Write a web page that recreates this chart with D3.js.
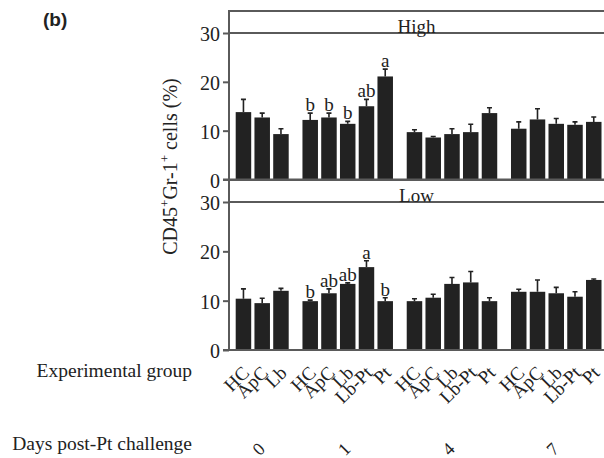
<!DOCTYPE html>
<html>
<head>
<meta charset="utf-8">
<script src="https://cdn.jsdelivr.net/npm/d3@7"></script>
<style>
  body { margin: 0; background: #fff; }
  svg text { font-family: "Liberation Serif", "Times New Roman", serif; fill: #222; }
  .panel-line { stroke: #5a5a5a; stroke-width: 2; }
  .bar { fill: #222; }
  .err { stroke: #222; stroke-width: 1.6; }
</style>
</head>
<body>
<div id="chart"></div>
<script>
// Days post-challenge and the experimental groups measured on each day
const days = ['0', '1', '4', '7'];
const treatments = [
  ['HC', 'ApC', 'Lb'],
  ['HC', 'ApC', 'Lb', 'Lb-Pt', 'Pt'],
  ['HC', 'ApC', 'Lb', 'Lb-Pt', 'Pt'],
  ['HC', 'ApC', 'Lb', 'Lb-Pt', 'Pt']
];

// High dose panel (mean and SE, %)
const highMean = [13.8, 12.7, 9.3,  12.2, 12.7, 11.4, 15.0, 21.1,  9.7, 8.6, 9.3, 9.7, 13.6,  10.4, 12.3, 11.4, 11.2, 11.8];
const highErr  = [2.6, 0.9, 1.1,  1.4, 0.9, 0.5, 1.4, 1.5,  0.5, 0.2, 1.1, 1.6, 1.1,  1.4, 2.2, 1.1, 0.6, 1.0];
const highSig  = ['', '', '',  'b', 'b', 'b', 'ab', 'a',  '', '', '', '', '',  '', '', '', '', ''];

// Low dose panel
const lowMean = [10.4, 9.5, 12.0,  9.9, 11.5, 13.4, 16.8, 9.9,  9.9, 10.6, 13.4, 13.7, 9.9,  11.8, 11.8, 11.5, 10.8, 14.2];
const lowErr  = [2.0, 1.0, 0.5,  0.2, 0.9, 0.2, 1.3, 0.7,  0.5, 0.7, 1.3, 2.2, 0.7,  0.5, 2.4, 1.2, 1.0, 0.2];
const lowSig  = ['', '', '',  'b', 'ab', 'ab', 'a', 'b',  '', '', '', '', '',  '', '', '', '', ''];

const yTicks = [0, 10, 20, 30];

const width = 604, height = 458;
const axisX = 229, rightX = 604;
const barW = 15.5;
const groupGap = 0.56; // extra slots between day groups

const svg = d3.select('#chart').append('svg')
    .attr('width', width)
    .attr('height', height);

// flatten into one bar per slot
const bars = [];
treatments.forEach((grp, g) => {
  grp.forEach(name => {
    const i = bars.length;
    bars.push({ i, g, name, slot: i + g * groupGap });
  });
});

const xScale = d3.scaleLinear()
    .domain([0, bars[bars.length - 1].slot])
    .range([235.7, 586]);
const xMid = d => xScale(d.slot) + barW / 2;

function drawPanel(label, top, yRange, mean, err, sig) {
  const yScale = d3.scaleLinear().domain([0, 30]).range(yRange);
  const g = svg.append('g');

  // strip with panel label
  g.append('line').attr('class', 'panel-line')
      .attr('x1', axisX).attr('x2', rightX).attr('y1', top).attr('y2', top);
  g.append('line').attr('class', 'panel-line')
      .attr('x1', axisX).attr('x2', rightX).attr('y1', yScale(30)).attr('y2', yScale(30));
  g.append('text')
      .attr('x', (axisX + rightX) / 2)
      .attr('y', yScale(30))
      .attr('text-anchor', 'middle')
      .style('font-size', '19px')
      .text(label);

  // bars
  g.selectAll('.bar')
      .data(bars)
    .join('rect')
      .attr('class', 'bar')
      .attr('x', d => xScale(d.slot))
      .attr('width', barW)
      .attr('y', d => yScale(mean[d.i]))
      .attr('height', d => yScale(0) - yScale(mean[d.i]));

  // upper error bars
  g.selectAll('.err')
      .data(bars)
    .join('path')
      .attr('class', 'err')
      .attr('fill', 'none')
      .attr('d', d => {
        const cx = xMid(d), y0 = yScale(mean[d.i]), y1 = yScale(mean[d.i] + err[d.i]);
        return `M${cx},${y0}V${y1}M${cx - 2.5},${y1}H${cx + 2.5}`;
      });

  // significance letters
  g.selectAll('.sig')
      .data(bars.filter(d => sig[d.i]))
    .join('text')
      .attr('class', 'sig')
      .attr('x', d => xMid(d))
      .attr('y', d => yScale(mean[d.i] + err[d.i]) - 2)
      .attr('text-anchor', 'middle')
      .style('font-size', '19px')
      .text(d => sig[d.i]);

  // baseline
  g.append('line').attr('class', 'panel-line')
      .attr('x1', axisX - 6).attr('x2', rightX).attr('y1', yScale(0)).attr('y2', yScale(0));

  // y axis
  const yAxis = d3.axisLeft(yScale).tickValues(yTicks).tickSize(6).tickPadding(3);
  g.append('g')
      .attr('transform', `translate(${axisX},0)`)
      .call(yAxis)
      .call(a => a.select('.domain').remove())
      .call(a => a.selectAll('line').attr('stroke', '#5a5a5a').attr('stroke-width', 2))
      .call(a => a.selectAll('text')
          .attr('dy', null)
          .attr('y', 7.5)
          .style('font-family', '"Liberation Serif", serif')
          .style('font-size', '20px')
          .attr('fill', '#222'));

  return yScale;
}

drawPanel('High', 11, [179.5, 33], highMean, highErr, highSig);
drawPanel('Low', 180, [350, 202], lowMean, lowErr, lowSig);

// left axis line through both panels
svg.append('line').attr('class', 'panel-line')
    .attr('x1', axisX).attr('x2', axisX).attr('y1', 10).attr('y2', 351);

// experimental group labels
svg.selectAll('.grp-label')
    .data(bars)
  .join('text')
    .attr('class', 'grp-label')
    .attr('text-anchor', 'end')
    .attr('transform', d => `translate(${xMid(d) + 7},374) rotate(-45)`)
    .style('font-size', '19px')
    .text(d => d.name);

// day labels
svg.selectAll('.day-label')
    .data(days)
  .join('text')
    .attr('class', 'day-label')
    .attr('text-anchor', 'middle')
    .attr('dominant-baseline', 'central')
    .attr('transform', (d, g) => {
      const inGroup = bars.filter(b => b.g === g);
      const cx = (xMid(inGroup[0]) + xMid(inGroup[inGroup.length - 1])) / 2;
      return `translate(${cx - 3.5},449) rotate(-45)`;
    })
    .style('font-size', '18px')
    .text(d => d);

// row titles
svg.append('text')
    .attr('x', 192).attr('y', 377)
    .attr('text-anchor', 'end')
    .style('font-size', '19.5px')
    .text('Experimental group');

svg.append('text')
    .attr('x', 192).attr('y', 450)
    .attr('text-anchor', 'end')
    .style('font-size', '19.5px')
    .text('Days post-Pt challenge');

// y axis title
const yTitle = svg.append('text')
    .attr('transform', 'translate(177,166.5) rotate(-90)')
    .attr('text-anchor', 'middle')
    .style('font-size', '20px');
yTitle.append('tspan').text('CD45');
yTitle.append('tspan').attr('dy', -8).style('font-size', '13px').text('+');
yTitle.append('tspan').attr('dy', 8).text('Gr-1');
yTitle.append('tspan').attr('dy', -8).style('font-size', '13px').text('+');
yTitle.append('tspan').attr('dy', 8).text(' cells (%)');

// panel tag
svg.append('text')
    .attr('x', 43).attr('y', 26)
    .style('font-family', '"Liberation Sans", Arial, sans-serif')
    .style('font-weight', 'bold')
    .style('font-size', '19px')
    .text('(b)');
</script>
</body>
</html>
